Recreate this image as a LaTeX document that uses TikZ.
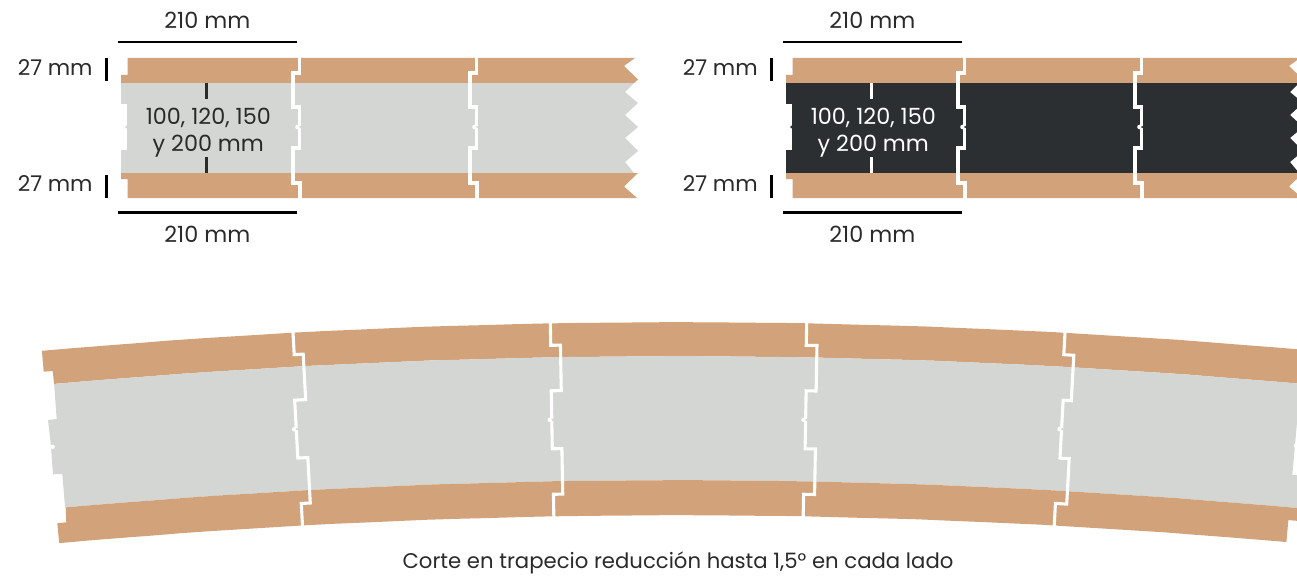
\documentclass[tikz,border=0pt]{standalone}
\usepackage{fontspec}
\setmainfont{Poppins}
\definecolor{tan}{HTML}{D2A27A}
\definecolor{lgray}{HTML}{D3D6D2}
\definecolor{dgray}{HTML}{2C2F32}
\definecolor{ink}{HTML}{2A2A2A}
% polar helper for the curved panel: angle, depth below outer arc, tangential offset
\newcommand{\PP}[3]{({678.5+(7100-(#2))*sin(#1)+(#3)*cos(#1)},{7422-(7100-(#2))*cos(#1)+(#3)*sin(#1)})}
\def\aL{-5.145}
\def\aLi{-5.07}
\def\aR{5.05}
\def\aRi{5.14}
% angle, then the offset of each of the five runs of the joint
\newcommand{\cjoint}[6]{%
  \draw[jointline] \PP{#1}{-2}{#2} -- \PP{#1}{22}{#2} -- \PP{#1}{22}{#3} -- \PP{#1}{67.5}{#3} -- \PP{#1}{67.5}{#4} -- \PP{#1}{125.5}{#4} -- \PP{#1}{125.5}{#5} -- \PP{#1}{171}{#5} -- \PP{#1}{171}{#6} -- \PP{#1}{195}{#6};
  \fill[white] \PP{#1}{96.5}{#4-2} circle[radius=2.3];
  \fill[lgray] \PP{#1}{96.5}{#4+0.8} circle[radius=1.2];
}
\newcommand{\strip}[4]{% #1 x offset, #2 body colour, #3 text/tick colour, #4 name suffix
  \begin{scope}[shift={(#1,0)}]
    % body
    \fill[#2] (121,83) -- (121,104) -- (127,104) -- (127,150) -- (121,150) -- (121,173)
      -- (634,173) -- (625,162) -- (638,151) -- (625,138) -- (638,127) -- (625,115) -- (638,103) -- (625,92) -- (634,83) -- cycle;
    \fill[#2] (126.6,127) circle[radius=1.4];
    % tan strips
    \fill[tan] (127.5,58) -- (127.5,75) -- (121,75) -- (121,83) -- (634,83) -- (638,79.5) -- (624,66) -- (635,58) -- cycle;
    \fill[tan] (121,173) -- (121,179) -- (127.5,179) -- (127.5,198) -- (637,198) -- (624,186.5) -- (638,173) -- cycle;
    % joints
    \foreach \jx in {0,177}{
      \begin{scope}[shift={(\jx,0)}]
        \draw[jointline] (299.5,56) -- (299.5,73) -- (293,73) -- (293,107) -- (299.5,107) -- (299.5,148) -- (293,148) -- (293,183) -- (300,183) -- (300,200);
        \fill[white] (297.5,127) circle[radius=2.3];
        \fill[#2] (300.2,127) circle[radius=1.2];
      \end{scope}
    }
    % dimension marks
    \draw[dimline] (118,42) -- (297,42);
    \draw[dimline] (118,212.5) -- (297,212.5);
    \draw[dimline] (106.5,58) -- (106.5,81);
    \draw[dimline] (106.5,175) -- (106.5,198);
    \draw[dimline,#3] (206.5,83) -- (206.5,99);
    \draw[dimline,#3] (206.5,157) -- (206.5,173);
    % labels
    \node[lab] (top#4) at (207.3,28.5) {210 mm};
    \node[lab] (bot#4) at (207.3,242) {210 mm};
    \node[lab,font=\fontsize{21.7}{27}\selectfont,anchor=base east] (lu#4) at (92.8,75.5) {27 mm};
    \node[lab,font=\fontsize{21.7}{27}\selectfont,anchor=base east] (ld#4) at (92.8,191.3) {27 mm};
    \node[lab,text=#3] (w1#4) at (208.3,124.5) {100, 120, 150};
    \node[lab,text=#3] (w2#4) at (208.3,151.5) {y 200 mm};
  \end{scope}
}
\tikzset{
  x=1pt,y=-1pt,
  jointline/.style={draw=white,line width=3.1pt,miter limit=10},
  dimline/.style={draw=black,line width=2.5pt},
  lab/.style={anchor=base,inner sep=0pt,text=ink,font=\fontsize{22.3}{27}\selectfont},
}
\begin{document}
\begin{tikzpicture}
\clip (0,0) rectangle (1297,575);
\strip{0}{lgray}{ink}{a}
\strip{665}{dgray}{white}{b}
% curved panel
\fill[tan] (41.9,350.6) -- (43.7,371.7) -- (52.7,371)
  -- plot[domain=\aLi:\aRi,samples=41,variable=\a] ({678.5+7066*sin(\a)},{7422-7066*cos(\a)})
  -- \PP{\aR}{22}{11} -- \PP{\aR}{22}{0} -- \PP{\aR}{0}{0}
  -- plot[domain=\aR:\aL,samples=41,variable=\a] ({678.5+7100*sin(\a)},{7422-7100*cos(\a)}) -- cycle;
\fill[lgray] (56.7,419) -- (48,420) -- (50.7,443) -- (53,474.3) -- (62.3,474)
  -- plot[domain=\aLi:\aRi,samples=41,variable=\a] ({678.5+6942*sin(\a)},{7422-6942*cos(\a)})
  -- \PP{\aR}{125.5}{12} -- \PP{\aR}{125.5}{0} -- \PP{\aR}{67.5}{0} -- \PP{\aR}{67.5}{11}
  -- plot[domain=\aRi:\aLi,samples=41,variable=\a] ({678.5+7066*sin(\a)},{7422-7066*cos(\a)}) -- cycle;
\fill[tan] (65.7,507.2) -- (66.3,522.3) -- (57.3,523.3)
  -- plot[domain=\aL:\aR,samples=41,variable=\a] ({678.5+6907*sin(\a)},{7422-6907*cos(\a)})
  -- \PP{\aR}{171}{0} -- \PP{\aR}{171}{12}
  -- plot[domain=\aRi:\aLi,samples=41,variable=\a] ({678.5+6942*sin(\a)},{7422-6942*cos(\a)}) -- cycle;
\fill[white] (52.6,446.8) circle[radius=2.2];
\fill[white] \PP{\aR}{96.5}{1} circle[radius=2.2];
\cjoint{-3.105}{-1}{8}{-3}{7}{-2}
\cjoint{-1.035}{0}{9.7}{-0.3}{9.3}{0}
\cjoint{1.035}{0}{10.7}{0.7}{11}{0}
\cjoint{3.105}{2}{12}{3.8}{13}{1.7}
\node[lab,font=\fontsize{21.2}{27}\selectfont] (caption) at (678,568) {Corte en trapecio reducción hasta 1,5° en cada lado};
\end{tikzpicture}
\end{document}
